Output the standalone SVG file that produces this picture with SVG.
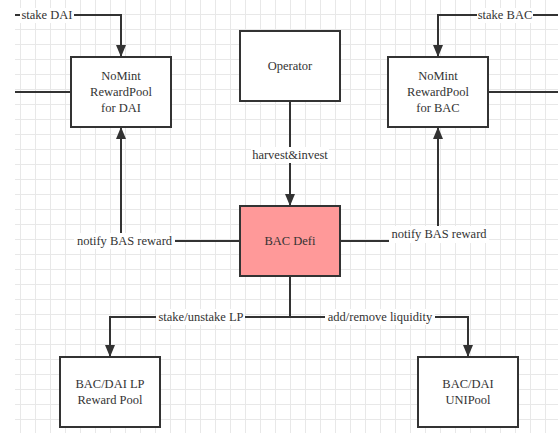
<svg xmlns="http://www.w3.org/2000/svg" width="558" height="433" viewBox="0 0 558 433">
<style>
.box{fill:#ffffff;stroke:#333333;stroke-width:2}
.hot{fill:#ff9999}
.t{font-family:"Liberation Serif","Times New Roman",serif;font-size:12.5px;fill:#333333;text-anchor:middle}
.c{fill:none;stroke:#333333;stroke-width:2}
.lb{fill:#ffffff}
</style>
<defs>
<pattern id="grid" patternUnits="userSpaceOnUse" x="5" y="14" width="15" height="15">
<path d="M0.5,0 V15 M0,0.5 H15" fill="none" stroke="#e8e8e8" stroke-width="1"/>
</pattern>
<marker id="arr" markerUnits="userSpaceOnUse" markerWidth="12" markerHeight="12" refX="12" refY="5" orient="auto" viewBox="0 0 12 10">
<path d="M0,0 L12,5 L0,10 z" fill="#333333"/>
</marker>
</defs>
<rect x="0" y="0" width="558" height="433" fill="#ffffff"/>
<rect x="15" y="0" width="543" height="433" fill="url(#grid)"/>

<g id="connectors">
<path class="c" d="M15,15 H121 V57" marker-end="url(#arr)"/>
<path class="c" d="M71,92 H15"/>
<path class="c" d="M558,15 H438 V57" marker-end="url(#arr)"/>
<path class="c" d="M488,92 H558"/>
<path class="c" d="M290,101 V206" marker-end="url(#arr)"/>
<path class="c" d="M240,241 H121 V127" marker-end="url(#arr)"/>
<path class="c" d="M340,241 H438 V127" marker-end="url(#arr)"/>
<path class="c" d="M290,276 V317 H110 V357" marker-end="url(#arr)"/>
<path class="c" d="M290,317 H468 V357" marker-end="url(#arr)"/>

<rect class="lb" x="20" y="8" width="54" height="15"/>
<text class="t" x="47" y="19">stake DAI</text>
<rect class="lb" x="477" y="8" width="56" height="15"/>
<text class="t" x="505" y="19">stake BAC</text>
<rect class="lb" x="251" y="147" width="78" height="16"/>
<text class="t" x="290" y="159">harvest&amp;invest</text>
<rect class="lb" x="74" y="233" width="101" height="16"/>
<text class="t" x="124.5" y="245">notify BAS reward</text>
<rect class="lb" x="389" y="226" width="100" height="17"/>
<text class="t" x="439" y="238">notify BAS reward</text>
<rect class="lb" x="156" y="309" width="89" height="16"/>
<text class="t" x="201" y="321">stake/unstake LP</text>
<rect class="lb" x="325" y="309" width="110" height="16"/>
<text class="t" x="380" y="321">add/remove liquidity</text>
</g>

<g id="nomint-dai">
<rect class="box" x="71" y="57" width="100" height="70"/>
<text class="t" x="121" y="80">NoMint</text>
<text class="t" x="121" y="96">RewardPool</text>
<text class="t" x="121" y="112">for DAI</text>
</g>
<g id="operator">
<rect class="box" x="240" y="31" width="100" height="70"/>
<text class="t" x="290" y="70">Operator</text>
</g>
<g id="nomint-bac">
<rect class="box" x="388" y="57" width="100" height="70"/>
<text class="t" x="438" y="80">NoMint</text>
<text class="t" x="438" y="96">RewardPool</text>
<text class="t" x="438" y="112">for BAC</text>
</g>
<g id="bac-defi">
<rect class="box hot" x="240" y="206" width="100" height="70"/>
<text class="t" x="290" y="245">BAC Defi</text>
</g>
<g id="lp-pool">
<rect class="box" x="60" y="357" width="100" height="70"/>
<text class="t" x="110" y="388">BAC/DAI LP</text>
<text class="t" x="110" y="404">Reward Pool</text>
</g>
<g id="unipool">
<rect class="box" x="418" y="357" width="100" height="70"/>
<text class="t" x="468" y="388">BAC/DAI</text>
<text class="t" x="468" y="404">UNIPool</text>
</g>
</svg>
